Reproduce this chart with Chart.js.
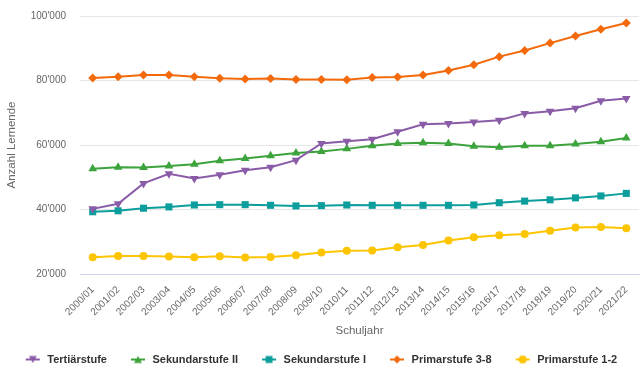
<!DOCTYPE html>
<html>
<head>
<meta charset="utf-8">
<script src="https://cdn.jsdelivr.net/npm/chart.js@4"></script>
<style>
  html, body { margin: 0; padding: 0; background: #fff; }
  #wrap { width: 644px; height: 372px; position: relative; }
</style>
</head>
<body>
<div id="wrap"><canvas id="myChart"></canvas></div>
<script>
// school years on the x axis
const schoolYears = ["2000/01", "2001/02", "2002/03", "2003/04", "2004/05", "2005/06", "2006/07",
  "2007/08", "2008/09", "2009/10", "2010/11", "2011/12", "2012/13", "2013/14", "2014/15",
  "2015/16", "2016/17", "2017/18", "2018/19", "2019/20", "2020/21", "2021/22"];

// number of learners per level
const tertiaer = [40200, 41800, 48100, 51100, 49600, 50800, 52200, 53100, 55300, 60500, 61200,
  61800, 64100, 66400, 66700, 67100, 67700, 69800, 70500, 71400, 73700, 74400];
const sekundar2 = [52600, 53100, 53000, 53500, 54000, 55100, 55800, 56700, 57500, 58000, 58800,
  59800, 60500, 60700, 60500, 59600, 59300, 59800, 59800, 60300, 61000, 62200];
const sekundar1 = [39300, 39600, 40400, 40800, 41400, 41500, 41500, 41300, 41100, 41200, 41400,
  41300, 41300, 41300, 41300, 41400, 42100, 42600, 43000, 43600, 44200, 45000];
const primar38 = [80800, 81200, 81700, 81700, 81200, 80700, 80500, 80600, 80300, 80300, 80200,
  80900, 81100, 81700, 83100, 84900, 87400, 89300, 91600, 93800, 95900, 97800];
const primar12 = [25200, 25600, 25600, 25400, 25200, 25500, 25100, 25300, 25800, 26700, 27200,
  27300, 28300, 29000, 30400, 31400, 32000, 32400, 33400, 34400, 34600, 34200];

const yTicks = [20000, 40000, 60000, 80000, 100000];

const seriesInfo = [
  { label: "Tertiärstufe", data: tertiaer, color: "#8a5ca7", style: "triangle", rot: 180, r: 5 },
  { label: "Sekundarstufe II", data: sekundar2, color: "#3da33c", style: "triangle", rot: 0, r: 5 },
  { label: "Sekundarstufe I", data: sekundar1, color: "#0c9e9c", style: "rect", rot: 0, r: 5 },
  { label: "Primarstufe 3-8", data: primar38, color: "#f26a0c", style: "rectRot", rot: 0, r: 4.5 },
  { label: "Primarstufe 1-2", data: primar12, color: "#fdc400", style: "circle", rot: 0, r: 4 }
];

const FONT = "'Liberation Sans', Arial, sans-serif";

// little legend symbol: line with marker, like Highcharts does it
function legendSymbol(s) {
  const c = document.createElement("canvas");
  c.width = 20; c.height = 12;
  const g = c.getContext("2d");
  const x0 = 4, x1 = 18, cx = 11, cy = 6;
  g.strokeStyle = s.color;
  g.lineWidth = 2;
  g.beginPath(); g.moveTo(x0, cy); g.lineTo(x1, cy); g.stroke();
  g.fillStyle = s.color;
  g.beginPath();
  if (s.style === "circle") {
    g.arc(cx, cy, 4, 0, Math.PI * 2);
  } else if (s.style === "rect") {
    g.rect(cx - 3.5, cy - 3.5, 7, 7);
  } else if (s.style === "rectRot") {
    g.moveTo(cx, cy - 4); g.lineTo(cx + 4, cy); g.lineTo(cx, cy + 4); g.lineTo(cx - 4, cy);
  } else if (s.rot === 180) {
    g.moveTo(cx - 4, cy - 3.5); g.lineTo(cx + 4, cy - 3.5); g.lineTo(cx, cy + 3.5);
  } else {
    g.moveTo(cx - 4, cy + 3.5); g.lineTo(cx + 4, cy + 3.5); g.lineTo(cx, cy - 3.5);
  }
  g.closePath(); g.fill();
  return c;
}

const ctx = document.getElementById("myChart").getContext("2d");
const myChart = new Chart(ctx, {
  type: "line",
  data: {
    labels: schoolYears,
    datasets: seriesInfo.map(s => ({
      label: s.label,
      data: s.data,
      borderColor: s.color,
      backgroundColor: s.color,
      borderWidth: 2,
      pointStyle: s.style,
      pointRotation: s.rot,
      pointRadius: s.r,
      pointBorderWidth: 0,
      tension: 0,
      fill: false
    }))
  },
  options: {
    responsive: true,
    maintainAspectRatio: false,
    animation: false,
    layout: { padding: { top: 16, right: 5, bottom: -3, left: 0 } },
    plugins: {
      tooltip: { enabled: false },
      legend: {
        position: "bottom",
        labels: {
          usePointStyle: true,
          pointStyleWidth: 20,
          padding: 20,
          color: "#333333",
          font: { family: FONT, size: 11, weight: "bold" },
          generateLabels: chart => seriesInfo.map((s, i) => ({
            text: s.label,
            pointStyle: legendSymbol(s),
            fillStyle: s.color,
            strokeStyle: s.color,
            lineWidth: 0,
            fontColor: "#333333",
            datasetIndex: i,
            hidden: false
          }))
        }
      }
    },
    scales: {
      x: {
        offset: true,
        afterFit: axis => { axis.height = 60; },
        grid: { display: false },
        border: { display: true, color: "#ccd6eb", width: 1 },
        ticks: {
          minRotation: 45,
          maxRotation: 45,
          autoSkip: false,
          padding: 2,
          color: "#666666",
          font: { family: FONT, size: 10 }
        },
        title: {
          display: true,
          text: "Schuljahr",
          color: "#666666",
          padding: { top: 0, bottom: -4 },
          font: { family: FONT, size: 11.5 }
        }
      },
      y: {
        min: 20000,
        max: 100000,
        afterBuildTicks: axis => { axis.ticks = yTicks.map(v => ({ value: v })); },
        afterFit: axis => {
          axis.width = 80;
          axis.paddingTop = 0;
          axis.paddingBottom = 0;
        },
        grid: {
          drawTicks: false,
          color: c => (c.tick && c.tick.value === 20000 ? "#ccd6eb" : "#e6e6e6")
        },
        border: { display: false },
        ticks: {
          padding: 14,
          color: "#666666",
          font: { family: FONT, size: 10 },
          callback: v => String(v).replace(/\B(?=(\d{3})+(?!\d))/g, "'")
        },
        title: {
          display: true,
          text: "Anzahl Lernende",
          color: "#666666",
          padding: { top: 5, bottom: 0 },
          font: { family: FONT, size: 11.5 }
        }
      }
    }
  }
});
</script>
</body>
</html>
